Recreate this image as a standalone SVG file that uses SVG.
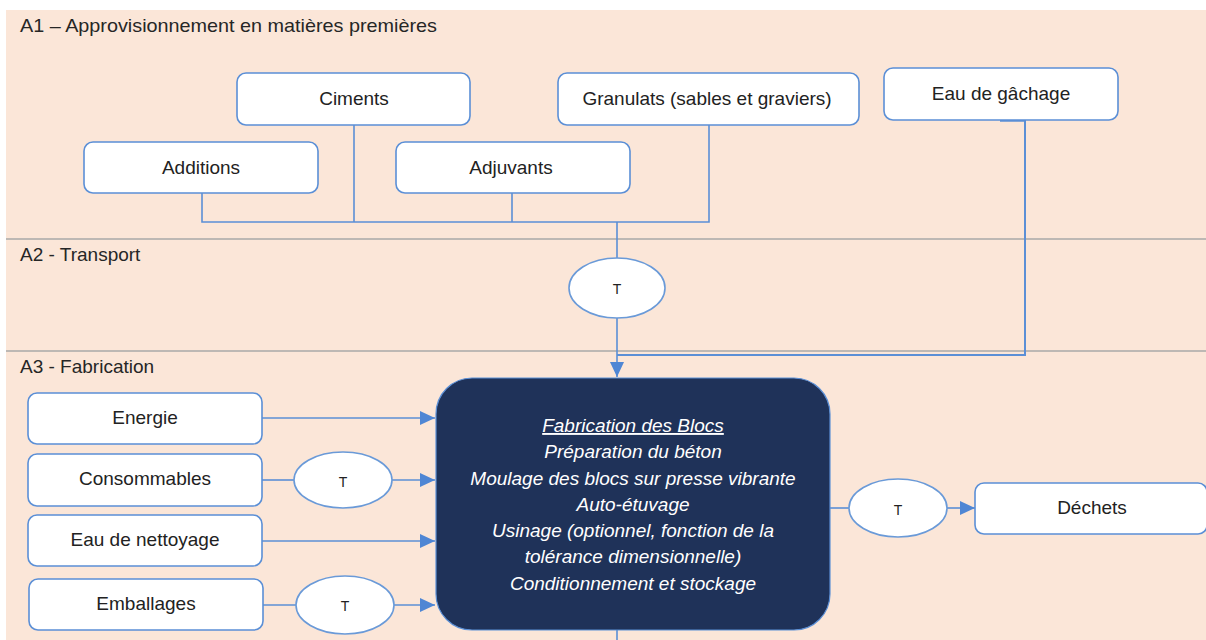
<svg xmlns="http://www.w3.org/2000/svg" width="1206" height="640" viewBox="0 0 1206 640">
<defs>
<style>
.lbl{font-family:"Liberation Sans",Arial,sans-serif;font-size:19px;fill:#262626}
.box{fill:#fff;stroke:#5B8FD6;stroke-width:1.6}
.bt{font-family:"Liberation Sans",Arial,sans-serif;font-size:19px;fill:#222;text-anchor:middle}
.ell{fill:#fff;stroke:#6A9AD8;stroke-width:1.6}
.tt{font-family:"Liberation Sans",Arial,sans-serif;font-size:14px;fill:#222;text-anchor:middle}
.ln{fill:none;stroke:#5B8FD6;stroke-width:1.6}
.sep{stroke:#A8A8A8;stroke-width:1.5}
.mt{font-family:"Liberation Sans",Arial,sans-serif;font-size:19px;font-style:italic;fill:#fff;text-anchor:middle}
</style>
<marker id="arr" markerUnits="userSpaceOnUse" markerWidth="16" markerHeight="14" refX="15" refY="7" orient="auto">
<path d="M0,0 L15,7 L0,14 Z" fill="#4F86D4"/>
</marker>
</defs>
<rect x="0" y="0" width="1206" height="640" fill="#fff"/>
<rect x="6" y="10" width="1200" height="630" fill="#FBE6D8"/>
<line class="sep" x1="6" y1="239" x2="1206" y2="239"/>
<line class="sep" x1="6" y1="351" x2="1206" y2="351"/>
<text class="lbl" x="20" y="32" textLength="417" lengthAdjust="spacingAndGlyphs">A1 – Approvisionnement en matières premières</text>
<text class="lbl" x="20" y="261">A2 - Transport</text>
<text class="lbl" x="20" y="373">A3 - Fabrication</text>

<g id="connectors">
<polyline class="ln" points="202,193 202,222 709,222 709,125"/>
<line class="ln" x1="354" y1="125" x2="354" y2="222"/>
<line class="ln" x1="512" y1="193" x2="512" y2="222"/>
<line class="ln" x1="617" y1="222" x2="617" y2="258"/>
<line class="ln" x1="617" y1="318" x2="617" y2="377" marker-end="url(#arr)"/>
<line class="ln" x1="1000" y1="120.5" x2="1025" y2="120.5" style="stroke-width:2.5"/>
<polyline class="ln" points="1025,120 1025,355 617,355" style="stroke-width:2"/>
<line class="ln" x1="262" y1="418" x2="435" y2="418" marker-end="url(#arr)"/>
<line class="ln" x1="262" y1="480" x2="294" y2="480"/>
<line class="ln" x1="392" y1="480" x2="435" y2="480" marker-end="url(#arr)"/>
<line class="ln" x1="262" y1="541" x2="435" y2="541" marker-end="url(#arr)"/>
<line class="ln" x1="263" y1="605" x2="296" y2="605"/>
<line class="ln" x1="394" y1="605" x2="435" y2="605" marker-end="url(#arr)"/>
<line class="ln" x1="830" y1="508" x2="849" y2="508"/>
<line class="ln" x1="947" y1="508" x2="975" y2="508" marker-end="url(#arr)"/>
<line class="ln" x1="617" y1="630" x2="617" y2="640"/>
</g>

<g id="ciments"><rect class="box" x="237" y="73" width="233" height="52" rx="9"/><text class="bt" x="354" y="105">Ciments</text></g>
<g id="granulats"><rect class="box" x="558" y="73" width="301" height="52" rx="9"/><text class="bt" x="707" y="105">Granulats (sables et graviers)</text></g>
<g id="eau-gachage"><rect class="box" x="884" y="68" width="234" height="52" rx="9"/><text class="bt" x="1001" y="100">Eau de gâchage</text></g>
<g id="additions"><rect class="box" x="84" y="142" width="234" height="51" rx="9"/><text class="bt" x="201" y="174">Additions</text></g>
<g id="adjuvants"><rect class="box" x="396" y="142" width="234" height="51" rx="9"/><text class="bt" x="511" y="174">Adjuvants</text></g>

<g id="t-transport"><ellipse class="ell" cx="617" cy="288" rx="48" ry="30"/><text class="tt" x="617" y="294">T</text></g>

<g id="energie"><rect class="box" x="28" y="393" width="234" height="51" rx="9"/><text class="bt" x="145" y="424">Energie</text></g>
<g id="consommables"><rect class="box" x="28" y="454" width="234" height="52" rx="9"/><text class="bt" x="145" y="485">Consommables</text></g>
<g id="eau-nettoyage"><rect class="box" x="28" y="515" width="234" height="51" rx="9"/><text class="bt" x="145" y="546">Eau de nettoyage</text></g>
<g id="emballages"><rect class="box" x="29" y="579" width="234" height="51" rx="9"/><text class="bt" x="146" y="610">Emballages</text></g>

<g id="t-consommables"><ellipse class="ell" cx="343" cy="480" rx="49" ry="28"/><text class="tt" x="343" y="487">T</text></g>
<g id="t-emballages"><ellipse class="ell" cx="345" cy="605" rx="49" ry="29"/><text class="tt" x="345" y="611">T</text></g>
<g id="t-dechets"><ellipse class="ell" cx="898" cy="508" rx="49" ry="29"/><text class="tt" x="898" y="515">T</text></g>

<g id="fabrication">
<rect x="436" y="378" width="394" height="252" rx="36" fill="#1F3259" stroke="#5B8FD6" stroke-width="1.2"/>
<text class="mt" x="633" y="432" text-decoration="underline">Fabrication des Blocs</text>
<text class="mt" x="633" y="458">Préparation du béton</text>
<text class="mt" x="633" y="485">Moulage des blocs sur presse vibrante</text>
<text class="mt" x="633" y="511">Auto-étuvage</text>
<text class="mt" x="633" y="537">Usinage (optionnel, fonction de la</text>
<text class="mt" x="633" y="563">tolérance dimensionnelle)</text>
<text class="mt" x="633" y="590">Conditionnement et stockage</text>
</g>

<g id="dechets"><rect class="box" x="975" y="483" width="232" height="51" rx="9"/><text class="bt" x="1092" y="514">Déchets</text></g>
</svg>
